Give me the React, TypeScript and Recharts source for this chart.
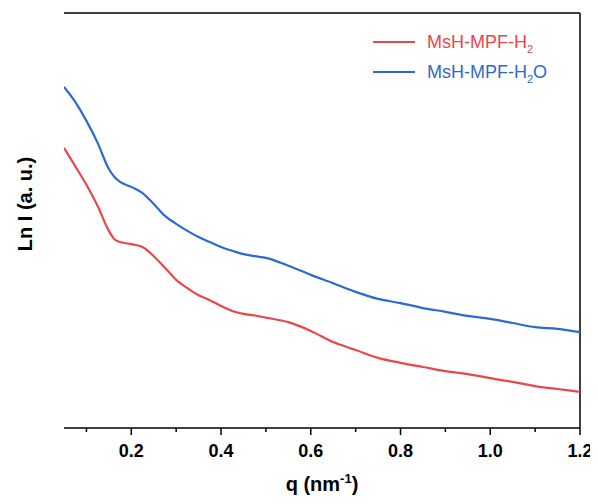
import { LineChart, Line, XAxis, YAxis, ReferenceLine } from "recharts";

const Q = [
  0.05, 0.075, 0.1, 0.125, 0.15, 0.1625, 0.175, 0.2, 0.225, 0.25, 0.275, 0.3,
  0.325, 0.35, 0.375, 0.4, 0.425, 0.45, 0.475, 0.5, 0.55, 0.6, 0.65, 0.7, 0.75,
  0.8, 0.85, 0.9, 0.95, 1.0, 1.05, 1.1, 1.15, 1.2,
];

const H2 = [
  6.75, 6.31, 5.86, 5.35, 4.75, 4.55, 4.48, 4.43, 4.36, 4.14, 3.86, 3.57, 3.37,
  3.2, 3.08, 2.94, 2.82, 2.75, 2.71, 2.66, 2.55, 2.34, 2.07, 1.88, 1.69, 1.57,
  1.47, 1.37, 1.3, 1.2, 1.11, 1.01, 0.94, 0.87,
];

const H2O = [
  8.22, 7.86, 7.4, 6.87, 6.24, 6.05, 5.93, 5.81, 5.66, 5.4, 5.11, 4.92, 4.75,
  4.6, 4.48, 4.36, 4.27, 4.19, 4.14, 4.1, 3.91, 3.69, 3.49, 3.28, 3.11, 3.01,
  2.89, 2.8, 2.7, 2.63, 2.53, 2.43, 2.39, 2.31,
];

const X_TICKS = [0.1, 0.2, 0.3, 0.4, 0.5, 0.6, 0.7, 0.8, 0.9, 1.0, 1.1, 1.2];
const MAJOR = [0.2, 0.4, 0.6, 0.8, 1.0, 1.2];

const RED = "#e8474b";
const BLUE = "#2b6bd0";
const FONT = "'Liberation Sans', Arial, sans-serif";

const data = Q.map((q, i) => ({ q, h2: H2[i], h2o: H2O[i] }));

function XTick(props: any) {
  const { x, y, payload } = props;
  const v = payload.value;
  const major = MAJOR.some((m) => Math.abs(m - v) < 1e-6);
  return (
    <g>
      <line x1={x} y1={y} x2={x} y2={y + (major ? 7 : 4)} stroke="#000" strokeWidth={1.5} />
      {major && (
        <text
          x={x}
          y={y + 29}
          textAnchor="middle"
          fontFamily={FONT}
          fontWeight="bold"
          fontSize={18}
          fill="#000"
        >
          {v.toFixed(1)}
        </text>
      )}
    </g>
  );
}

function XLabel(props: any) {
  const { x, y, width } = props.viewBox;
  return (
    <text
      x={x + width / 2}
      y={y + 63}
      textAnchor="middle"
      fontFamily={FONT}
      fontWeight="bold"
      fontSize={20}
      fill="#000"
    >
      q (nm
      <tspan dy={-8} fontSize={13}>-1</tspan>
      <tspan dy={8}>)</tspan>
    </text>
  );
}

function LegendBox() {
  const rows = [
    { color: RED, name: "MsH-MPF-H", sub: "2", tail: "" },
    { color: BLUE, name: "MsH-MPF-H", sub: "2", tail: "O" },
  ];
  return (
    <div
      style={{
        position: "absolute",
        left: 365,
        top: 19,
        fontFamily: FONT,
        fontSize: 18,
        lineHeight: "30px",
      }}
    >
      {rows.map((r, i) => (
        <div key={i} style={{ display: "flex", alignItems: "center", height: 30, color: r.color }}>
          <span
            style={{ display: "inline-block", width: 42, height: 2, background: r.color, marginRight: 12 }}
          />
          <span style={{ whiteSpace: "nowrap" }}>
            {r.name}
            <sub style={{ fontSize: 11, lineHeight: 0 }}>{r.sub}</sub>
            {r.tail}
          </span>
        </div>
      ))}
    </div>
  );
}

export default function App() {
  return (
    <div style={{ position: "relative", width: 590, height: 488 }}>
      <LineChart
        width={590}
        height={488}
        data={data}
        margin={{ top: 5, right: 18, left: 56, bottom: 38 }}
      >
        <XAxis
          dataKey="q"
          type="number"
          domain={[0.05, 1.2]}
          ticks={X_TICKS}
          interval={0}
          height={30}
          tickSize={0}
          tickMargin={0}
          tickLine={false}
          tick={<XTick />}
          axisLine={{ stroke: "#000", strokeWidth: 1.5 }}
          allowDataOverflow
          label={<XLabel />}
        />
        <YAxis
          type="number"
          domain={[0, 10]}
          width={0}
          tick={false}
          tickLine={false}
          axisLine={{ stroke: "#000", strokeWidth: 1.5 }}
        />
        <ReferenceLine y={10} stroke="#000" strokeWidth={1.5} />
        <ReferenceLine x={1.2} stroke="#000" strokeWidth={1.5} />
        <Line
          dataKey="h2"
          stroke={RED}
          strokeWidth={2.2}
          dot={false}
          type="monotone"
          isAnimationActive={false}
        />
        <Line
          dataKey="h2o"
          stroke={BLUE}
          strokeWidth={2.2}
          dot={false}
          type="monotone"
          isAnimationActive={false}
        />
      </LineChart>
      <LegendBox />
      <div
        style={{
          position: "absolute",
          left: 17,
          top: 196,
          transform: "translate(-50%, -50%) rotate(-90deg)",
          fontFamily: FONT,
          fontWeight: "bold",
          fontSize: 20,
          whiteSpace: "nowrap",
          color: "#000",
        }}
      >
        Ln I (a. u.)
      </div>
    </div>
  );
}
